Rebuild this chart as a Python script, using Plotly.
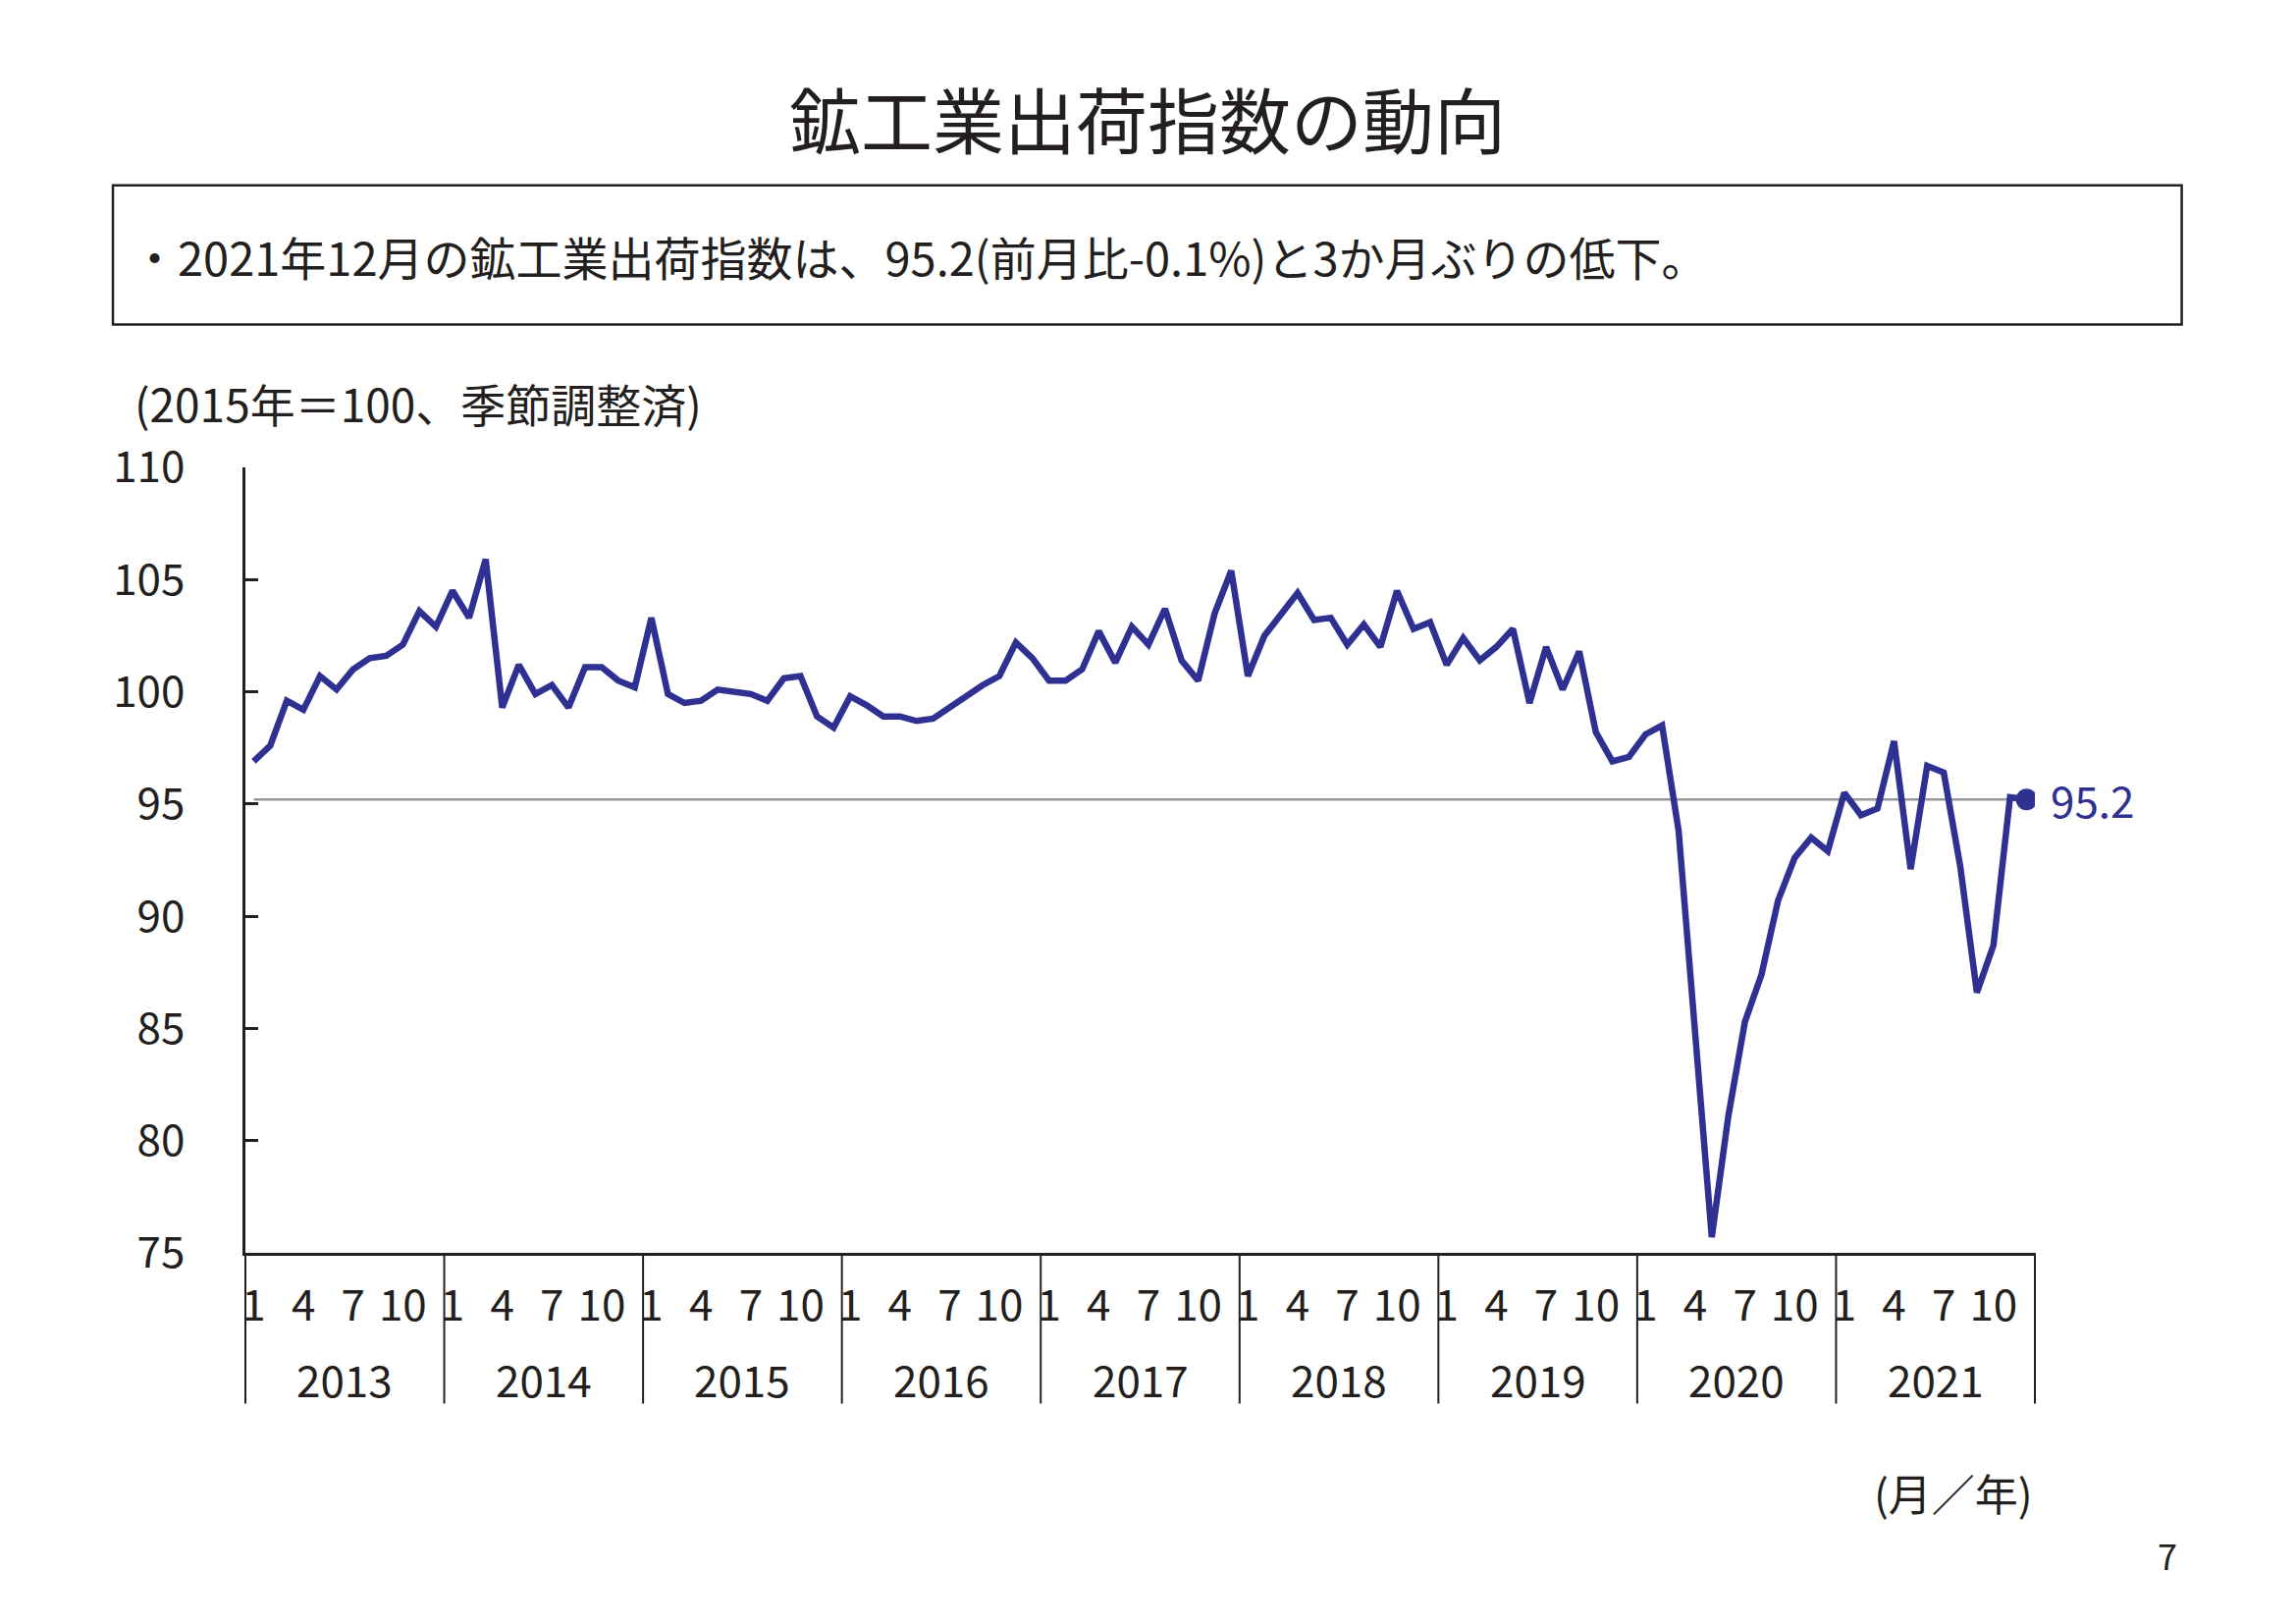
import plotly.graph_objects as go

# ---- data (monthly index, 2015=100, seasonally adjusted) ----
years = ["2013", "2014", "2015", "2016", "2017", "2018", "2019", "2020", "2021"]
month_ticks = ["1", "4", "7", "10"]
v2013 = [96.9, 97.6, 99.6, 99.2, 100.7, 100.1, 101.0, 101.5, 101.6, 102.1, 103.6, 102.9]
v2014 = [104.5, 103.3, 105.9, 99.3, 101.2, 99.9, 100.3, 99.3, 101.1, 101.1, 100.5, 100.2]
v2015 = [103.3, 99.9, 99.5, 99.6, 100.1, 100.0, 99.9, 99.6, 100.6, 100.7, 98.9, 98.4]
v2016 = [99.8, 99.4, 98.9, 98.9, 98.7, 98.8, 99.3, 99.8, 100.3, 100.7, 102.2, 101.5]
v2017 = [100.5, 100.5, 101.0, 102.7, 101.3, 102.9, 102.1, 103.7, 101.4, 100.5, 103.5, 105.4]
v2018 = [100.7, 102.5, 103.5, 104.4, 103.2, 103.3, 102.1, 103.0, 102.0, 104.5, 102.8, 103.1]
v2019 = [101.2, 102.4, 101.4, 102.0, 102.8, 99.5, 102.0, 100.1, 101.8, 98.2, 96.9, 97.1]
v2020 = [98.1, 98.5, 93.8, 84.6, 75.7, 81.1, 85.3, 87.4, 90.7, 92.6, 93.5, 92.9]
v2021 = [95.5, 94.5, 94.8, 97.8, 92.1, 96.7, 96.4, 92.2, 86.6, 88.7, 95.3, 95.2]
y_ticks = [75, 80, 85, 90, 95, 100, 105, 110]

title_text = "鉱工業出荷指数の動向"
box_text = "・2021年12月の鉱工業出荷指数は、95.2(前月比-0.1%)と3か月ぶりの低下。"
unit_text = "(2015年＝100、季節調整済)"
xunit_text = "(月／年)"
page_text = "7"

values = v2013 + v2014 + v2015 + v2016 + v2017 + v2018 + v2019 + v2020 + v2021
n = len(values)
xs = list(range(n))
last = values[-1]

NAVY = "#2E3192"
BLACK = "#231F20"
FONT = "Noto Sans CJK JP"

W, H = 2339, 1654
L, R, T, B = 250, 2073.4, 476.4, 1276.5


def px(x):
    return (x - L) / (R - L)


def py(y):
    return (B - y) / (B - T)


fig = go.Figure()

# reference line at latest value
fig.add_trace(go.Scatter(x=[xs[0], xs[-1]], y=[last, last], mode="lines",
                         line=dict(color="#9A9A9A", width=2.5),
                         hoverinfo="skip", showlegend=False))
# main series
fig.add_trace(go.Scatter(x=xs, y=values, mode="lines",
                         line=dict(color=NAVY, width=6.5),
                         showlegend=False))
# last point marker
fig.add_trace(go.Scatter(x=[xs[-1]], y=[last], mode="markers",
                         marker=dict(color=NAVY, size=22),
                         showlegend=False))

tickvals = []
ticktext = []
for yi in range(len(years)):
    for m in month_ticks:
        tickvals.append(yi * 12 + int(m) - 1)
        ticktext.append(m)

annotations = []
shapes = []

# year labels and dividers
for yi, yr in enumerate(years):
    annotations.append(dict(x=yi * 12 + 5.5, y=py(1405), xref="x", yref="paper",
                            text=yr, showarrow=False, xanchor="center", yanchor="middle",
                            font=dict(family=FONT, size=44, color=BLACK)))
for k in range(len(years) + 1):
    shapes.append(dict(type="line", xref="paper", yref="paper",
                       x0=k / len(years), x1=k / len(years), y0=0, y1=py(1430),
                       line=dict(color=BLACK, width=2)))

# last value label
annotations.append(dict(x=xs[-1], y=last, xref="x", yref="y", text=f"{last}",
                        showarrow=False, xanchor="left", yanchor="middle", xshift=22,
                        font=dict(family=FONT, size=44, color=NAVY)))

# title
annotations.append(dict(x=px(1169.5), y=py(119), xref="paper", yref="paper", text=title_text,
                        showarrow=False, xanchor="center", yanchor="middle",
                        font=dict(family=FONT, size=73, color=BLACK)))
# box
shapes.append(dict(type="rect", xref="paper", yref="paper",
                   x0=px(115), x1=px(2223), y0=py(189), y1=py(331),
                   line=dict(color=BLACK, width=2.5), fillcolor="rgba(0,0,0,0)"))
annotations.append(dict(x=px(132), y=py(261), xref="paper", yref="paper", text=box_text,
                        showarrow=False, xanchor="left", yanchor="middle",
                        font=dict(family=FONT, size=47, color=BLACK)))
# unit label
annotations.append(dict(x=px(135), y=py(410), xref="paper", yref="paper", text=unit_text,
                        showarrow=False, xanchor="left", yanchor="middle",
                        font=dict(family=FONT, size=46, color=BLACK)))
# x unit label
annotations.append(dict(x=px(2073), y=py(1521), xref="paper", yref="paper", text=xunit_text,
                        showarrow=False, xanchor="right", yanchor="middle",
                        font=dict(family=FONT, size=44, color=BLACK)))
# page number
annotations.append(dict(x=px(2208), y=py(1584), xref="paper", yref="paper", text=page_text,
                        showarrow=False, xanchor="center", yanchor="middle",
                        font=dict(family=FONT, size=36, color=BLACK)))

fig.update_layout(
    width=W, height=H,
    margin=dict(l=L, r=W - R, t=T, b=H - B, pad=0),
    paper_bgcolor="white", plot_bgcolor="white",
    font=dict(family=FONT, color=BLACK),
    annotations=annotations, shapes=shapes,
    showlegend=False,
)
fig.update_xaxes(range=[-0.5, n - 0.5], tickmode="array", tickvals=tickvals, ticktext=ticktext,
                 showgrid=False, zeroline=False, showline=True, linecolor=BLACK, linewidth=2.5,
                 ticks="", tickfont=dict(family=FONT, size=44, color=BLACK),
                 ticklabelstandoff=13)
fig.update_yaxes(range=[75, 110], tickmode="array", tickvals=y_ticks,
                 showgrid=False, zeroline=False, showline=True, linecolor=BLACK, linewidth=2.5,
                 ticks="inside", ticklen=13, tickwidth=2.5, tickcolor=BLACK,
                 tickfont=dict(family=FONT, size=44, color=BLACK),
                 ticklabelstandoff=50)

fig.write_html("out.html")
